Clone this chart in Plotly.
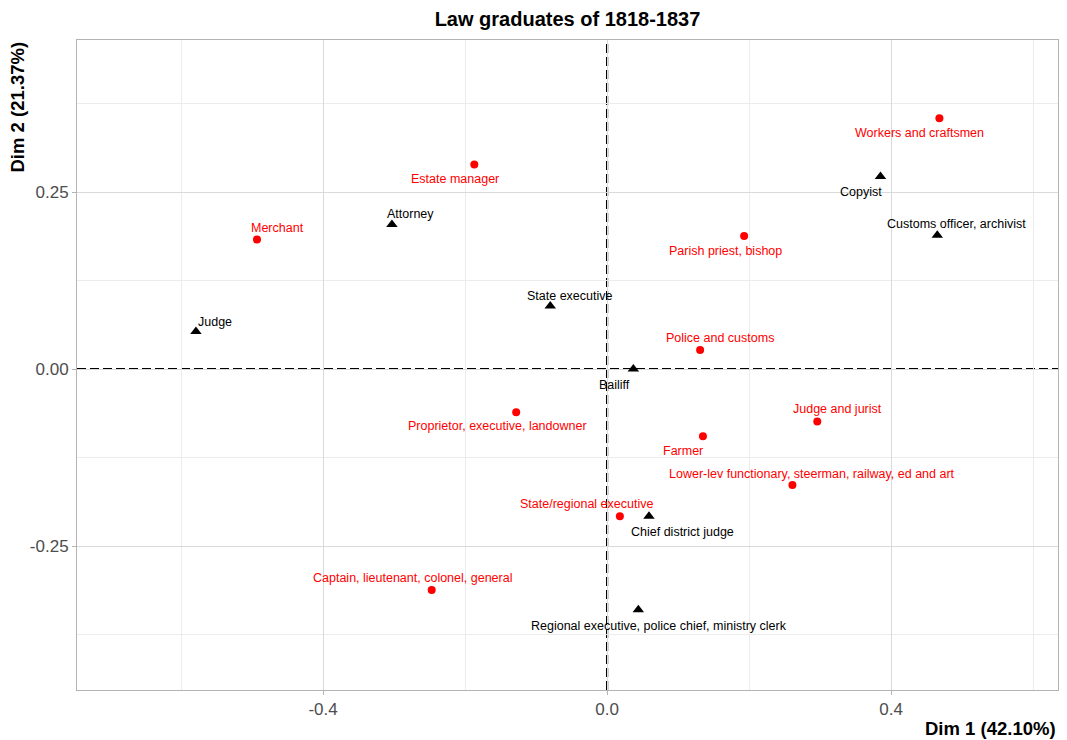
import plotly.graph_objects as go

# Row categories (red circles)
row_labels = [
    "Workers and craftsmen", "Estate manager", "Merchant", "Parish priest, bishop",
    "Police and customs", "Proprietor, executive, landowner", "Judge and jurist",
    "Farmer", "Lower-lev functionary, steerman, railway, ed and art",
    "State/regional executive", "Captain, lieutenant, colonel, general",
]
row_dim1 = [0.468, -0.187, -0.493, 0.193, 0.131, -0.128, 0.296, 0.135, 0.261, 0.018, -0.247]
row_dim2 = [0.354, 0.289, 0.183, 0.188, 0.027, -0.061, -0.074, -0.095, -0.164, -0.208, -0.312]

# Column categories (black triangles)
col_labels = [
    "Copyist", "Customs officer, archivist", "Attorney", "State executive",
    "Judge", "Bailiff", "Chief district judge",
    "Regional executive, police chief, ministry clerk",
]
col_dim1 = [0.385, 0.465, -0.303, -0.080, -0.579, 0.037, 0.059, 0.044]
col_dim2 = [0.272, 0.189, 0.204, 0.089, 0.053, 0.000, -0.208, -0.340]

# Tick positions and labels
x_ticks = [-0.4, 0.0, 0.4]
x_ticktext = ["-0.4", "0.0", "0.4"]
y_ticks = [-0.25, 0.0, 0.25]
y_ticktext = ["-0.25", "0.00", "0.25"]

# Label offsets in pixels (dx right, dy up) so text sits beside its marker
row_offsets = [(-20, -15), (-19, -15), (20, 11), (-19, -15), (20, 12), (-19, -14),
               (20, 12), (-20, -15), (20, 11), (-33, 12), (-19, 12)]
col_offsets = [(-19, -16), (19, 11), (19, 11), (20, 10), (19, 9), (-19, -16),
               (34, -16), (21, -16)]

RED = "#FF0000"
FONT = "Liberation Sans, Arial, sans-serif"

fig = go.Figure()
fig.add_trace(go.Scatter(
    x=row_dim1, y=row_dim2, mode="markers", name="rows",
    marker=dict(symbol="circle", size=8, color=RED),
    hovertext=row_labels, showlegend=False,
))
fig.add_trace(go.Scatter(
    x=col_dim1, y=col_dim2, mode="markers", name="columns",
    marker=dict(symbol="triangle-up", size=10, color="black"),
    hovertext=col_labels, showlegend=False,
))

annotations = []
for lab, x, y, (dx, dy) in zip(row_labels, row_dim1, row_dim2, row_offsets):
    annotations.append(dict(x=x, y=y, xref="x", yref="y", text=lab, showarrow=False,
                            xshift=dx, yshift=dy, xanchor="center", yanchor="middle",
                            font=dict(family=FONT, size=12.5, color=RED)))
for lab, x, y, (dx, dy) in zip(col_labels, col_dim1, col_dim2, col_offsets):
    annotations.append(dict(x=x, y=y, xref="x", yref="y", text=lab, showarrow=False,
                            xshift=dx, yshift=dy, xanchor="center", yanchor="middle",
                            font=dict(family=FONT, size=12.5, color="black")))

# Axis titles placed ggplot-style: x at bottom-right, y at top-left
annotations.append(dict(text="<b>Dim 1 (42.10%)</b>", xref="paper", yref="paper",
                        x=1, y=0, yshift=-38, xanchor="right", yanchor="middle",
                        showarrow=False, font=dict(family=FONT, size=18.5, color="black")))
annotations.append(dict(text="<b>Dim 2 (21.37%)</b>", xref="paper", yref="paper",
                        x=0, y=1, xshift=-60, xanchor="center", yanchor="top",
                        textangle=-90, showarrow=False,
                        font=dict(family=FONT, size=18.5, color="black")))

fig.update_layout(
    width=1067, height=740,
    margin=dict(l=77, r=9, t=40, b=50),
    paper_bgcolor="white", plot_bgcolor="white",
    title=dict(text="<b>Law graduates of 1818-1837</b>", x=(77 + 1058) / 2 / 1067,
               xanchor="center", y=1 - 19 / 740, yanchor="middle",
               font=dict(family=FONT, size=20, color="black")),
    annotations=annotations,
    shapes=[
        dict(type="line", xref="x", yref="paper", x0=0, x1=0, y0=0, y1=1,
             line=dict(color="black", width=2.2, dash="9px,4px"), layer="below"),
        dict(type="line", xref="paper", yref="y", x0=0, x1=1, y0=0, y1=0,
             line=dict(color="black", width=2.2, dash="9px,4px"), layer="below"),
    ],
)

axis_common = dict(
    showgrid=True, gridcolor="#DADADA", gridwidth=1,
    zeroline=False, showline=True, mirror=True, linecolor="#B3B3B3", linewidth=1,
    ticks="outside", ticklen=4, tickcolor="#B3B3B3",
    tickfont=dict(family=FONT, size=17, color="#4D4D4D"),
)
fig.update_xaxes(range=[-0.7465, 0.635], tickmode="array", tickvals=x_ticks, ticktext=x_ticktext,
                 minor=dict(dtick=0.2, tick0=0, showgrid=True, gridcolor="#ECECEC", gridwidth=1,
                            ticks=""),
                 **axis_common)
fig.update_yaxes(range=[-0.4534, 0.4647], tickmode="array", tickvals=y_ticks, ticktext=y_ticktext,
                 minor=dict(dtick=0.125, tick0=0, showgrid=True, gridcolor="#ECECEC", gridwidth=1,
                            ticks=""),
                 **axis_common)

fig.write_html("out.html")
